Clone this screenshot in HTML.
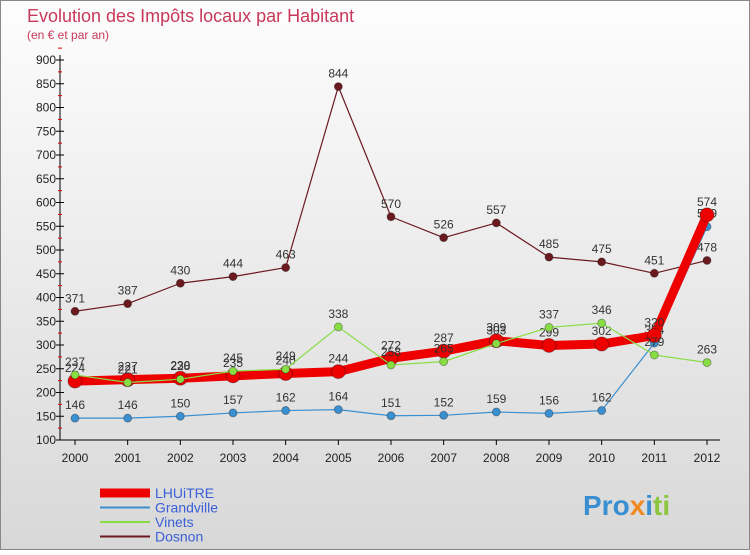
<!DOCTYPE html>
<html><head><meta charset="utf-8"><style>
body{margin:0;width:750px;height:550px;overflow:hidden;font-family:"Liberation Sans",sans-serif}
</style></head><body>
<svg width="750" height="550" xmlns="http://www.w3.org/2000/svg">
<defs><linearGradient id="bg" x1="0" y1="0" x2="0" y2="1"><stop offset="0" stop-color="#fdfdfd"/><stop offset="1" stop-color="#d8d8d8"/></linearGradient></defs>
<rect x="0.5" y="0.5" width="749" height="549" fill="url(#bg)" stroke="#888"/>
<text x="27" y="22" font-size="18" fill="#c8385a">Evolution des Impôts locaux par Habitant</text>
<text x="27" y="39" font-size="12" fill="#c8385a">(en € et par an)</text>
<g id="axes"></g><g id="series"></g><g id="legend"></g>
<text x="583" y="515" font-size="28" font-weight="bold"><tspan fill="#3a8fd0">Pro</tspan><tspan fill="#f08a20">x</tspan><tspan fill="#3a8fd0">i</tspan><tspan fill="#8cc63f">ti</tspan></text>
</svg>
<script>
const years=[2000,2001,2002,2003,2004,2005,2006,2007,2008,2009,2010,2011,2012];
const lhuitre=[224,227,230,235,240,244,272,287,309,299,302,320,574];
const grandville=[146,146,150,157,162,164,151,152,159,156,162,304,549];
const vinets=[237,221,228,245,249,338,258,265,303,337,346,279,263];
const dosnon=[371,387,430,444,463,844,570,526,557,485,475,451,478];
const yTicks=[100,150,200,250,300,350,400,450,500,550,600,650,700,750,800,850,900];
const NS="http://www.w3.org/2000/svg";
const x=i=>75+i*(707-75)/12;
const y=v=>440-(v-100)*380/800;
function mk(t,a,p){const e=document.createElementNS(NS,t);for(const k in a)e.setAttribute(k,a[k]);p.appendChild(e);return e;}
const ax=document.getElementById('axes');
let l=mk('line',{x1:60,y1:55,x2:60,y2:440,stroke:'#000'},ax);


l=mk('line',{x1:60,y1:440,x2:720,y2:440,stroke:'#000'},ax);


yTicks.forEach(v=>{
 mk('line',{x1:56,y1:y(v),x2:64,y2:y(v),stroke:'#000'},ax);
 mk('line',{x1:58,y1:y(v+25),x2:62,y2:y(v+25),stroke:'#d00'},ax);
 const t=mk('text',{x:56,y:y(v)+4,'font-size':12,'text-anchor':'end',fill:'#222'},ax);t.textContent=v;
 
 
});
years.forEach((yr,i)=>{
 mk('line',{x1:x(i),y1:440,x2:x(i),y2:445,stroke:'#000'},ax);
 const t=mk('text',{x:x(i),y:462,'font-size':12,'text-anchor':'middle',fill:'#222'},ax);t.textContent=yr;
 
 
});
const S=document.getElementById('series');
function draw(vals,color,w,r,name){
 const g=mk('g',{},S);
 
 
 const p=mk('polyline',{points:vals.map((v,i)=>x(i)+','+y(v)).join(' '),fill:'none',stroke:color,'stroke-width':w,'stroke-linejoin':'round'},g);
 
 
 vals.forEach((v,i)=>{
  const c=mk('circle',{cx:x(i),cy:y(v),r:r,fill:color,stroke:'rgba(0,0,0,0.3)'},g);
  
  
  const t=mk('text',{x:x(i),y:y(v)-9,'font-size':12,'text-anchor':'middle',fill:'#333'},g);t.textContent=v;
  
  
 });
}
draw(dosnon,'#6b1a20',1.2,4,'dosnon');
draw(grandville,'#3a8fd0',1.2,4,'grandville');
draw(lhuitre,'#ee0000',9,7,'lhuitre');
draw(vinets,'#88dd44',1.2,4,'vinets');
const L=document.getElementById('legend');
[['LHUiTRE','#ee0000',9],['Grandville','#3a8fd0',2],['Vinets','#88dd44',2],['Dosnon','#6b1a20',2]].forEach((d,i)=>{
 const yy=493+i*14.5;
 const ln=mk('line',{x1:100,y1:yy,x2:150,y2:yy,stroke:d[1],'stroke-width':d[2]},L);
 
 
 const t=mk('text',{x:155,y:yy+5,'font-size':14,fill:'#3a5fd8'},L);t.textContent=d[0];
 
 
});
</script>
</body></html>
